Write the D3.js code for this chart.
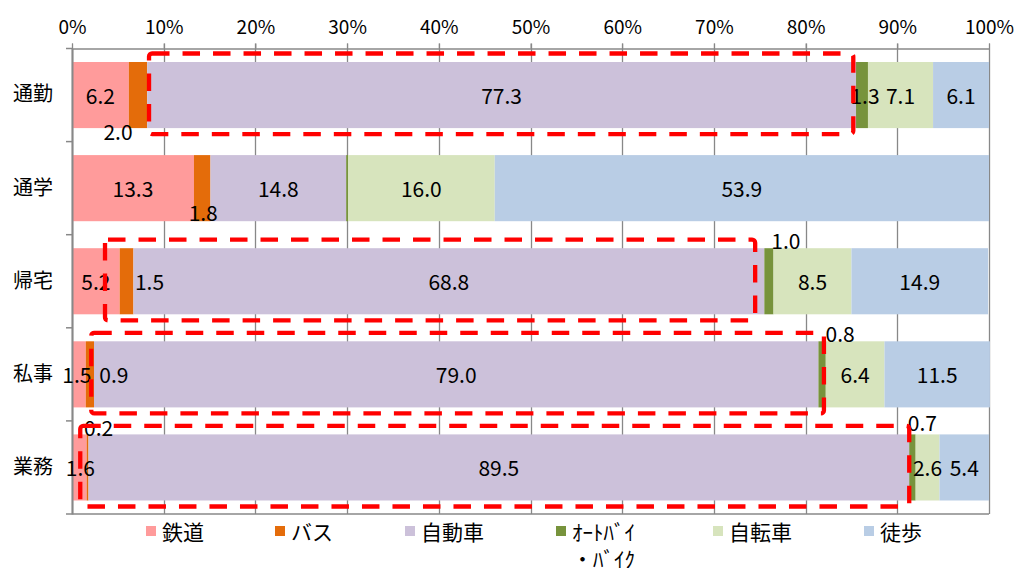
<!DOCTYPE html>
<html><head><meta charset="utf-8">
<script src="https://cdn.jsdelivr.net/npm/d3@7"></script>
<style>
html,body{margin:0;padding:0;background:#fff;}
text{font-family:"Noto Sans CJK JP","Noto Sans",sans-serif;fill:#000;}
</style></head>
<body>
<svg id="chart" width="1017" height="568"></svg>
<script>
// ---- data ----
const categories = ["通勤", "通学", "帰宅", "私事", "業務"];
const seriesNames = ["鉄道", "バス", "自動車", "ｵｰﾄﾊﾞｲ・ﾊﾞｲｸ", "自転車", "徒歩"];
const rail    = [6.2, 13.3, 5.2, 1.5, 1.6];
const bus     = [2.0, 1.8, 1.5, 0.9, 0.2];
const car     = [77.3, 14.8, 68.8, 79.0, 89.5];
const moto    = [1.3, 0.2, 1.0, 0.8, 0.7];
const bicycle = [7.1, 16.0, 8.5, 6.4, 2.6];
const walk    = [6.1, 53.9, 14.9, 11.5, 5.4];
const tickValues = [0, 10, 20, 30, 40, 50, 60, 70, 80, 90, 100];
const tickLabels = ["0%", "10%", "20%", "30%", "40%", "50%", "60%", "70%", "80%", "90%", "100%"];

// highlighted ranges (red dashed boxes), in percent along each category row
const highlightCats = ["通勤", "帰宅", "私事", "業務"];
const highlightFrom = [8.4, 3.6, 2.1, 0.9];
const highlightTo   = [85.2, 74.5, 82.0, 91.3];

// ---- styles / layout ----
const colors = ["#FF9B9B", "#E46C0A", "#CCC1DA", "#77933C", "#D7E4BD", "#B9CDE5"];
// label nudges [dx, dy] for crowded labels; null = label hidden
const labelNudge = [
  [[0,0],[-20,36],[0,0],[3,0],[0,0],[0,0]],
  [[0,0],[1,24],[0,0],null,[0,0],[0,0]],
  [[0,0],[23,0],[0,0],[17,-41],[0,0],[0,0]],
  [[-2,0],[24,0],[0,0],[18,-41],[0,0],[0,0]],
  [[1,0],[11,-40],[0,0],[10,-45],[0,0],[0,0]]
];
const legendX = [146, 275, 405, 556, 713, 864];

const series = [rail, bus, car, moto, bicycle, walk];
const rows = categories.map((c, i) => {
  const o = {cat: c};
  seriesNames.forEach((s, j) => o[s] = series[j][i]);
  return o;
});

const svg = d3.select("#chart");
const margin = {left: 72, right: 28, top: 48.5, bottom: 54};
const W = 1017, H = 568;
const x = d3.scaleLinear().domain([0, 100]).range([margin.left, W - margin.right]);
const y = d3.scaleBand().domain(categories).range([margin.top, H - margin.bottom])
  .paddingInner(0.29).paddingOuter(0.145);

const gridColor = "#888";

// gridlines
svg.append("g").selectAll("line").data(tickValues).join("line")
  .attr("x1", d => Math.round(x(d)) + 0.5).attr("x2", d => Math.round(x(d)) + 0.5)
  .attr("y1", margin.top - 5).attr("y2", H - margin.bottom)
  .attr("stroke", gridColor).attr("stroke-width", 1.3);

// top axis
const xAxis = d3.axisTop(x).tickValues(tickValues).tickFormat((d, i) => tickLabels[i]).tickSize(5).tickSizeOuter(0);
const gx = svg.append("g").attr("transform", `translate(0,${margin.top})`).call(xAxis);
gx.select(".domain").attr("stroke", gridColor).attr("stroke-width", 1.5);
gx.selectAll(".tick line").attr("stroke", gridColor);
gx.selectAll(".tick text").attr("font-size", 19).attr("dy", "-0.35em")
  .style("font-family", '"Noto Sans CJK JP",sans-serif').attr("fill", "#000");
// bottom border
svg.append("line").attr("x1", x(0)).attr("x2", x(100))
  .attr("y1", H - margin.bottom).attr("y2", H - margin.bottom)
  .attr("stroke", gridColor).attr("stroke-width", 1.5);

// stacked bars
const stack = d3.stack().keys(seriesNames)(rows);
const layers = svg.append("g").selectAll("g").data(stack).join("g")
  .attr("fill", (d, i) => colors[i]);
layers.selectAll("rect").data(d => d).join("rect")
  .attr("x", d => x(d[0])).attr("width", d => x(d[1]) - x(d[0]))
  .attr("y", d => y(d.data.cat)).attr("height", y.bandwidth());

// left axis
const yAxis = d3.axisLeft(y).tickSize(0).tickPadding(19);
const gy = svg.append("g").attr("transform", `translate(${margin.left},0)`).call(yAxis);
gy.select(".domain").attr("stroke", gridColor).attr("stroke-width", 2);
gy.selectAll(".tick text").attr("font-size", 20)
  .style("font-family", '"Noto Sans CJK JP",sans-serif').attr("fill", "#000");
// category boundary ticks
const bounds = categories.map(c => y(c) - y.step() * y.paddingInner() / 2)
  .concat([H - margin.bottom]);
svg.append("g").selectAll("line").data(bounds).join("line")
  .attr("x1", margin.left - 6).attr("x2", margin.left)
  .attr("y1", d => d).attr("y2", d => d)
  .attr("stroke", gridColor).attr("stroke-width", 1.5);

// data labels
const labelG = svg.append("g");
stack.forEach((layer, j) => {
  layer.forEach((d, i) => {
    const nudge = labelNudge[i][j];
    if (!nudge) return;
    labelG.append("text")
      .attr("x", (x(d[0]) + x(d[1])) / 2 + nudge[0])
      .attr("y", y(d.data.cat) + y.bandwidth() / 2 + nudge[1])
      .attr("text-anchor", "middle").attr("dominant-baseline", "central")
      .attr("font-size", 21)
      .text(series[j][i].toFixed(1));
  });
});

// red dashed highlight boxes
svg.append("g").selectAll("rect").data(highlightCats).join("rect")
  .attr("x", (c, k) => x(highlightFrom[k]))
  .attr("width", (c, k) => x(highlightTo[k]) - x(highlightFrom[k]))
  .attr("y", c => y(c) - 8.5)
  .attr("height", y.bandwidth() + 14.5)
  .attr("rx", 3).attr("fill", "none")
  .attr("stroke", "#FF0000").attr("stroke-width", 4.3)
  .attr("stroke-dasharray", "17.5,13");

// legend
const legend = svg.append("g");
const ly = 531;
seriesNames.forEach((s, j) => {
  const lx = legendX[j];
  legend.append("rect").attr("x", lx).attr("y", ly - 5).attr("width", 10).attr("height", 10)
    .attr("fill", colors[j]);
  const parts = s.split("・");
  legend.append("text").attr("x", lx + 16).attr("y", ly)
    .attr("dominant-baseline", "central").attr("font-size", 21).text(parts[0]);
  if (parts.length > 1) {
    legend.append("text").attr("x", lx + 16).attr("y", ly + 27)
      .attr("dominant-baseline", "central").attr("font-size", 21).text("・" + parts[1]);
  }
});
</script>
</body></html>
